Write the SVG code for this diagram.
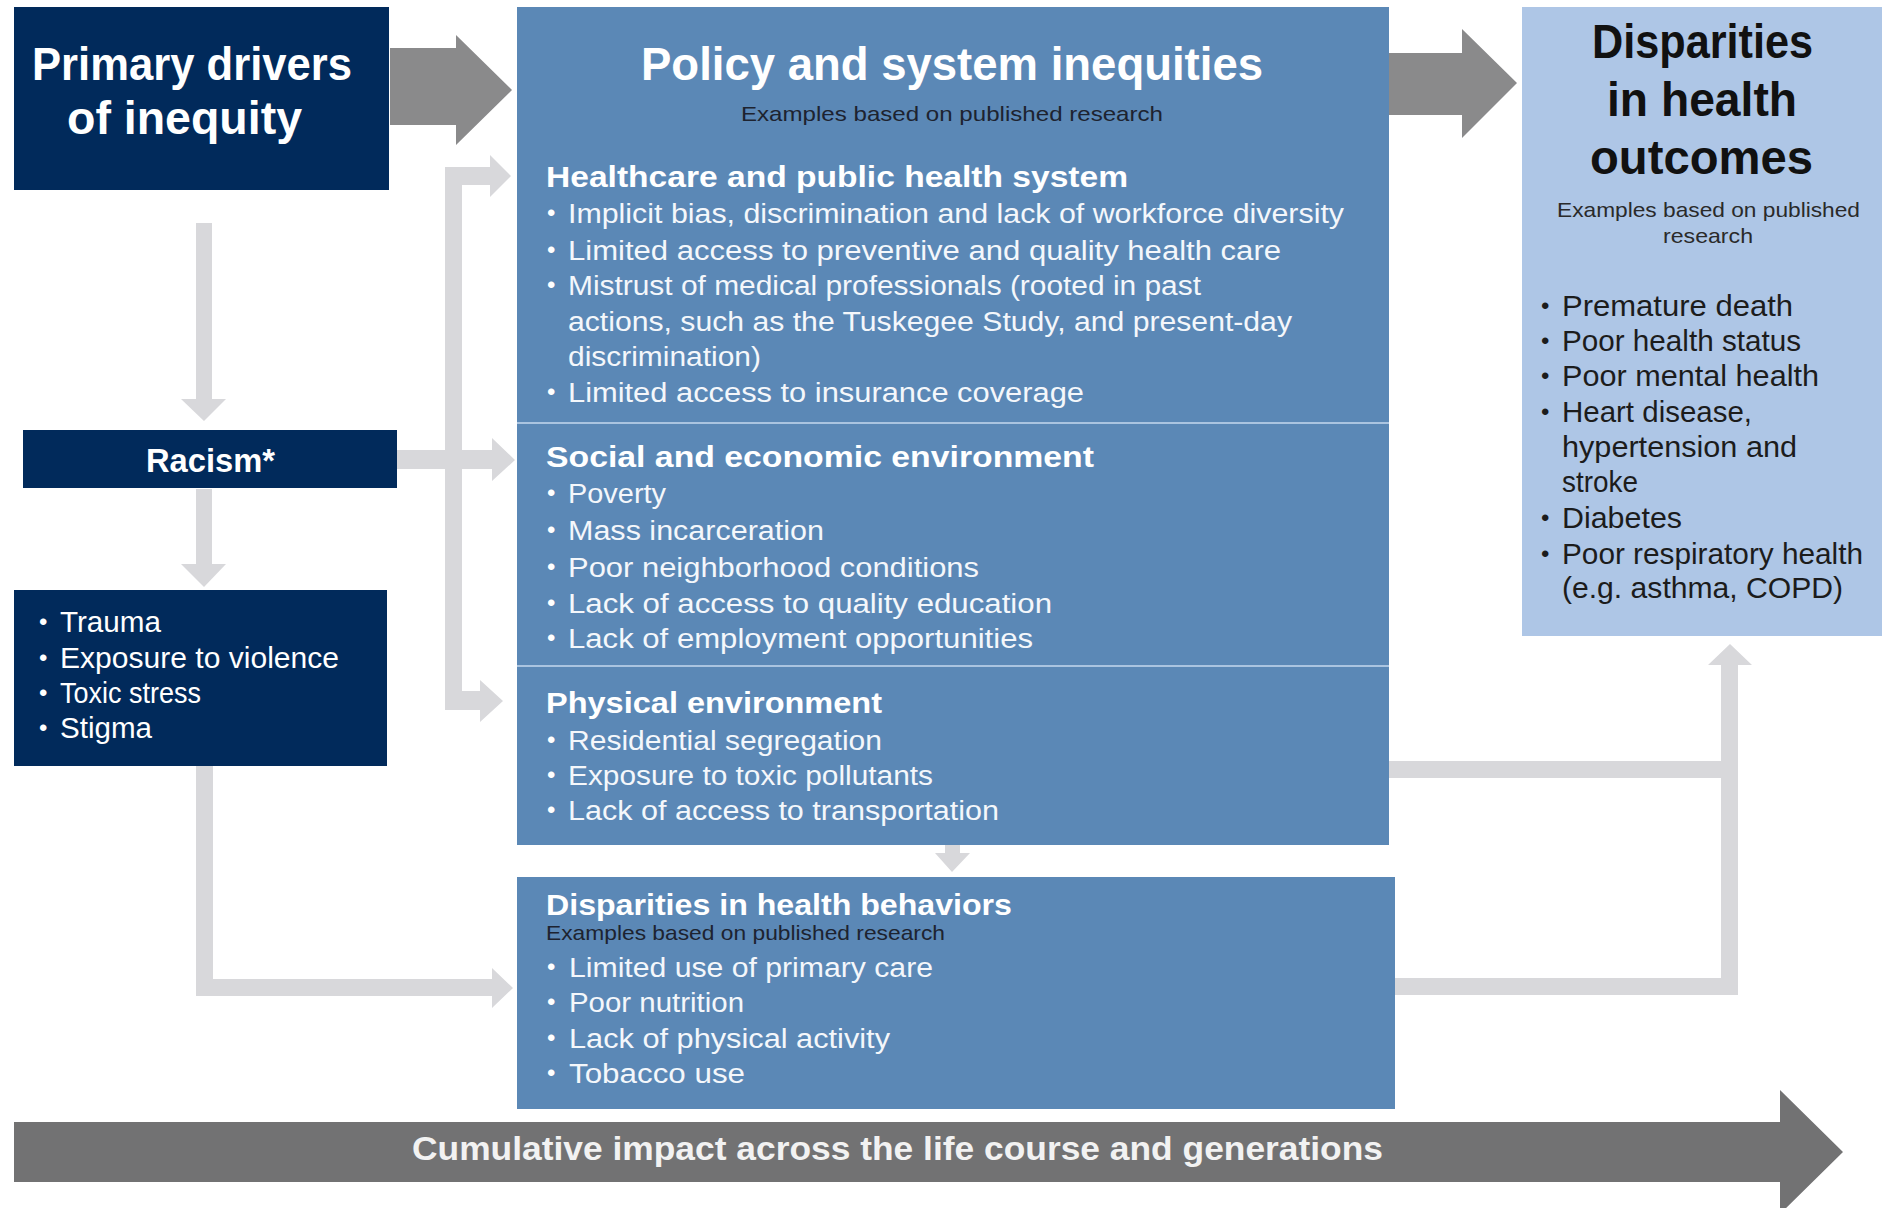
<svg xmlns="http://www.w3.org/2000/svg" width="1882" height="1208" viewBox="0 0 1882 1208">
<style>
text{font-family:"Liberation Sans",Arial,sans-serif}
.w{fill:#ffffff}
.b{font-weight:bold}
.li{font-size:27px;fill:#f4f7fb}
.hd{font-size:30px;font-weight:bold;fill:#ffffff}
.lb{font-size:29px;fill:#ffffff}
.ob{font-size:29px;fill:#1c1c1c}
.bul{font-size:24px}
.navy{fill:#012a5b}
.pol{fill:#5b88b6}
.out{fill:#aec6e6}
.dark{fill:#8a8a8b}
.light{fill:#d8d8db}
.sub{fill:#1d2330}
</style>
<rect width="1882" height="1208" fill="#ffffff"/>

<g id="connectors">
  <polygon class="dark" points="390,48 456,48 456,35 512,90 456,145 456,125 390,125"/>
  <polygon class="dark" points="1388,53 1462,53 1462,29 1517,83 1462,138 1462,115 1388,115"/>
  <polygon class="light" points="196,223 212,223 212,399 226,399 204,421 181,399 196,399"/>
  <polygon class="light" points="196,489 212,489 212,564 226,564 204,587 181,564 196,564"/>
  <polygon class="light" points="196,766 213,766 213,979 492,979 492,968 513,988 492,1008 492,996 196,996"/>
  <polygon class="light" points="445,167 490,167 490,155 511,176 490,197 490,185 462,185 462,691 480,691 480,680 503,701 480,722 480,710 445,710"/>
  <polygon class="light" points="397,450 492,450 492,438 515,460 492,481 492,469 397,469"/>
  <polygon class="light" points="1389,761 1721,761 1721,665 1708,665 1730,644 1752,665 1738,665 1738,995 1395,995 1395,978 1721,978 1721,778 1389,778"/>
  <polygon class="light" points="945,845 960,845 960,853 970,853 952,872 935,853 945,853"/>
  <polygon fill="#727273" points="14,1122 1780,1122 1780,1090 1843,1152 1780,1214 1780,1182 14,1182"/>
  <text class="b" x="412" y="1160" font-size="34" fill="#f2f2f2" textLength="971" lengthAdjust="spacingAndGlyphs">Cumulative impact across the life course and generations</text>
</g>

<g id="primary-drivers">
  <rect class="navy" x="14" y="7" width="375" height="183"/>
  <text class="w b" x="32" y="80" font-size="47" textLength="320" lengthAdjust="spacingAndGlyphs">Primary drivers</text>
  <text class="w b" x="67" y="134" font-size="47" textLength="235" lengthAdjust="spacingAndGlyphs">of inequity</text>
</g>

<g id="racism">
  <rect class="navy" x="23" y="430" width="374" height="58"/>
  <text class="w b" x="146" y="472" font-size="33" textLength="129" lengthAdjust="spacingAndGlyphs">Racism*</text>
</g>

<g id="stressors">
  <rect class="navy" x="14" y="590" width="373" height="176"/>
  <text class="w bul" x="39" y="630">•</text>
  <text class="lb" x="60" y="632" textLength="101" lengthAdjust="spacingAndGlyphs">Trauma</text>
  <text class="w bul" x="39" y="666">•</text>
  <text class="lb" x="60" y="668" textLength="279" lengthAdjust="spacingAndGlyphs">Exposure to violence</text>
  <text class="w bul" x="39" y="701">•</text>
  <text class="lb" x="60" y="703" textLength="141" lengthAdjust="spacingAndGlyphs">Toxic stress</text>
  <text class="w bul" x="39" y="736">•</text>
  <text class="lb" x="60" y="738" textLength="92" lengthAdjust="spacingAndGlyphs">Stigma</text>
</g>

<g id="policy-system">
  <rect class="pol" x="517" y="7" width="872" height="838"/>
  <line x1="517" y1="423" x2="1389" y2="423" stroke="#aac4e0" stroke-width="2"/>
  <line x1="517" y1="666" x2="1389" y2="666" stroke="#aac4e0" stroke-width="2"/>
  <text class="w b" x="641" y="80" font-size="46" textLength="622" lengthAdjust="spacingAndGlyphs">Policy and system inequities</text>
  <text class="sub" x="741" y="121" font-size="21" textLength="422" lengthAdjust="spacingAndGlyphs">Examples based on published research</text>

  <text class="hd" x="546" y="187" textLength="582" lengthAdjust="spacingAndGlyphs">Healthcare and public health system</text>
  <text class="w bul" x="547" y="221">•</text>
  <text class="li" x="568" y="223" textLength="776" lengthAdjust="spacingAndGlyphs">Implicit bias, discrimination and lack of workforce diversity</text>
  <text class="w bul" x="547" y="258">•</text>
  <text class="li" x="568" y="260" textLength="713" lengthAdjust="spacingAndGlyphs">Limited access to preventive and quality health care</text>
  <text class="w bul" x="547" y="293">•</text>
  <text class="li" x="568" y="295" textLength="633" lengthAdjust="spacingAndGlyphs">Mistrust of medical professionals (rooted in past</text>
  <text class="li" x="568" y="331" textLength="724" lengthAdjust="spacingAndGlyphs">actions, such as the Tuskegee Study, and present-day</text>
  <text class="li" x="568" y="366" textLength="193" lengthAdjust="spacingAndGlyphs">discrimination)</text>
  <text class="w bul" x="547" y="400">•</text>
  <text class="li" x="568" y="402" textLength="516" lengthAdjust="spacingAndGlyphs">Limited access to insurance coverage</text>

  <text class="hd" x="546" y="467" textLength="548" lengthAdjust="spacingAndGlyphs">Social and economic environment</text>
  <text class="w bul" x="547" y="501">•</text>
  <text class="li" x="568" y="503" textLength="98" lengthAdjust="spacingAndGlyphs">Poverty</text>
  <text class="w bul" x="547" y="538">•</text>
  <text class="li" x="568" y="540" textLength="256" lengthAdjust="spacingAndGlyphs">Mass incarceration</text>
  <text class="w bul" x="547" y="575">•</text>
  <text class="li" x="568" y="577" textLength="411" lengthAdjust="spacingAndGlyphs">Poor neighborhood conditions</text>
  <text class="w bul" x="547" y="611">•</text>
  <text class="li" x="568" y="613" textLength="484" lengthAdjust="spacingAndGlyphs">Lack of access to quality education</text>
  <text class="w bul" x="547" y="646">•</text>
  <text class="li" x="568" y="648" textLength="465" lengthAdjust="spacingAndGlyphs">Lack of employment opportunities</text>

  <text class="hd" x="546" y="713" textLength="336" lengthAdjust="spacingAndGlyphs">Physical environment</text>
  <text class="w bul" x="547" y="748">•</text>
  <text class="li" x="568" y="750" textLength="314" lengthAdjust="spacingAndGlyphs">Residential segregation</text>
  <text class="w bul" x="547" y="783">•</text>
  <text class="li" x="568" y="785" textLength="365" lengthAdjust="spacingAndGlyphs">Exposure to toxic pollutants</text>
  <text class="w bul" x="547" y="818">•</text>
  <text class="li" x="568" y="820" textLength="431" lengthAdjust="spacingAndGlyphs">Lack of access to transportation</text>
</g>

<g id="health-behaviors">
  <rect class="pol" x="517" y="877" width="878" height="232"/>
  <text class="hd" x="546" y="915" textLength="466" lengthAdjust="spacingAndGlyphs">Disparities in health behaviors</text>
  <text class="sub" x="546" y="940" font-size="21" textLength="399" lengthAdjust="spacingAndGlyphs">Examples based on published research</text>
  <text class="w bul" x="547" y="975">•</text>
  <text class="li" x="569" y="977" textLength="364" lengthAdjust="spacingAndGlyphs">Limited use of primary care</text>
  <text class="w bul" x="547" y="1010">•</text>
  <text class="li" x="569" y="1012" textLength="175" lengthAdjust="spacingAndGlyphs">Poor nutrition</text>
  <text class="w bul" x="547" y="1046">•</text>
  <text class="li" x="569" y="1048" textLength="321" lengthAdjust="spacingAndGlyphs">Lack of physical activity</text>
  <text class="w bul" x="547" y="1081">•</text>
  <text class="li" x="569" y="1083" textLength="176" lengthAdjust="spacingAndGlyphs">Tobacco use</text>
</g>

<g id="health-outcomes">
  <rect class="out" x="1522" y="7" width="360" height="629"/>
  <text class="b" x="1592" y="58" font-size="48" fill="#111111" textLength="221" lengthAdjust="spacingAndGlyphs">Disparities</text>
  <text class="b" x="1607" y="116" font-size="48" fill="#111111" textLength="190" lengthAdjust="spacingAndGlyphs">in health</text>
  <text class="b" x="1590" y="174" font-size="48" fill="#111111" textLength="223" lengthAdjust="spacingAndGlyphs">outcomes</text>
  <text x="1557" y="217" font-size="21" fill="#2a2a2a" textLength="303" lengthAdjust="spacingAndGlyphs">Examples based on published</text>
  <text x="1663" y="243" font-size="21" fill="#2a2a2a" textLength="90" lengthAdjust="spacingAndGlyphs">research</text>
  <text class="bul" x="1541" y="314" fill="#1c1c1c">•</text>
  <text class="ob" x="1562" y="316" textLength="231" lengthAdjust="spacingAndGlyphs">Premature death</text>
  <text class="bul" x="1541" y="349" fill="#1c1c1c">•</text>
  <text class="ob" x="1562" y="351" textLength="239" lengthAdjust="spacingAndGlyphs">Poor health status</text>
  <text class="bul" x="1541" y="384" fill="#1c1c1c">•</text>
  <text class="ob" x="1562" y="386" textLength="257" lengthAdjust="spacingAndGlyphs">Poor mental health</text>
  <text class="bul" x="1541" y="420" fill="#1c1c1c">•</text>
  <text class="ob" x="1562" y="422" textLength="190" lengthAdjust="spacingAndGlyphs">Heart disease,</text>
  <text class="ob" x="1562" y="457" textLength="235" lengthAdjust="spacingAndGlyphs">hypertension and</text>
  <text class="ob" x="1562" y="492" textLength="76" lengthAdjust="spacingAndGlyphs">stroke</text>
  <text class="bul" x="1541" y="526" fill="#1c1c1c">•</text>
  <text class="ob" x="1562" y="528" textLength="120" lengthAdjust="spacingAndGlyphs">Diabetes</text>
  <text class="bul" x="1541" y="562" fill="#1c1c1c">•</text>
  <text class="ob" x="1562" y="564" textLength="301" lengthAdjust="spacingAndGlyphs">Poor respiratory health</text>
  <text class="ob" x="1562" y="598" textLength="281" lengthAdjust="spacingAndGlyphs">(e.g. asthma, COPD)</text>
</g>
</svg>
